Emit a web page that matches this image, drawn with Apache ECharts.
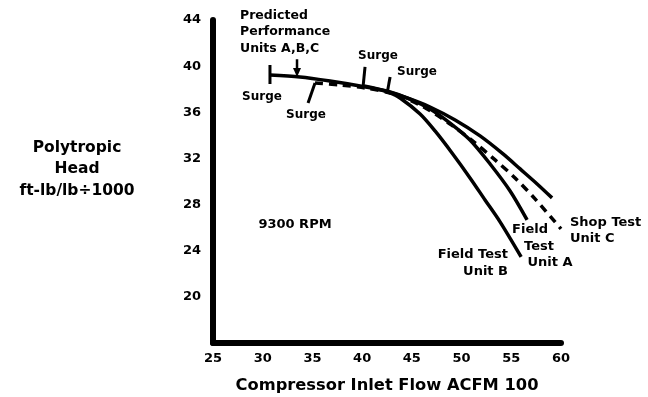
<!DOCTYPE html>
<html>
<head>
<meta charset="utf-8">
<script src="https://cdn.jsdelivr.net/npm/echarts@6/dist/echarts.min.js"></script>
<style>
html,body{margin:0;padding:0;background:#fff;}
#c{width:648px;height:397px;}
</style>
</head>
<body>
<div id="c"></div>
<script>
// X ticks / Y ticks
const xTicks = [25, 30, 35, 40, 45, 50, 55, 60];
const yTicks = [20, 24, 28, 32, 36, 40, 44];

// Predicted Performance Units A,B,C
const predFlow = [30.73, 33.75, 36.77, 39.79, 42.30, 44.52, 46.83, 49.35, 51.86, 54.17, 55.89, 57.60, 59.10];
const predHead = [39.23, 39.06, 38.71, 38.28, 37.85, 37.24, 36.46, 35.33, 33.95, 32.39, 31.09, 29.79, 28.58];

// Field Test Unit A
const unitAFlow = [40.19, 42.81, 44.82, 46.83, 48.84, 50.85, 52.87, 54.88, 56.59];
const unitAHead = [38.28, 37.76, 37.15, 36.29, 35.07, 33.60, 31.52, 29.18, 26.67];

// Field Test Unit B
const unitBFlow = [42.61, 43.81, 45.83, 47.33, 49.04, 50.85, 52.36, 53.87, 55.99];
const unitBHead = [37.76, 37.24, 35.85, 34.38, 32.47, 30.31, 28.40, 26.50, 23.46];

// Shop Test Unit C (dashed)
const unitCFlow = [35.26, 37.78, 40.29, 42.81, 45.83, 48.84, 51.36, 53.37, 55.38, 57.39, 60.0];
const unitCHead = [38.54, 38.37, 38.11, 37.67, 36.63, 34.99, 33.34, 31.87, 30.31, 28.49, 25.89];

// Surge tick segments [flow1, head1, flow2, head2]
const surgeTicks = [
  [30.73, 40.1, 30.73, 38.45],
  [35.26, 38.54, 34.56, 36.81],
  [40.29, 39.93, 40.09, 38.19],
  [42.81, 39.06, 42.5, 37.59]
];

// Arrow pointing to predicted line [flow, headTop, headBottom]
const arrowPts = [33.45, 40.6, 39.45];

const zip = (a, b) => a.map((v, i) => [v, b[i]]);
const font = s => "bold " + s + "px 'DejaVu Sans', sans-serif";

const curveStyle = {color: '#000', width: 3.5};
const series = [
  {type: 'line', data: zip(predFlow, predHead), smooth: 0.3, symbol: 'none', lineStyle: curveStyle},
  {type: 'line', data: zip(unitAFlow, unitAHead), smooth: 0.3, symbol: 'none', lineStyle: curveStyle},
  {type: 'line', data: zip(unitBFlow, unitBHead), smooth: 0.3, symbol: 'none', lineStyle: curveStyle},
  {type: 'line', data: zip(unitCFlow, unitCHead), smooth: 0.3, symbol: 'none',
   lineStyle: {color: '#000', width: 3.5, type: [8, 6]}}
];
surgeTicks.forEach(t => {
  series.push({type: 'line', data: [[t[0], t[1]], [t[2], t[3]]], symbol: 'none',
    lineStyle: {color: '#000', width: 3}});
});
series.push({type: 'line', symbol: 'none', lineStyle: {color: '#000', width: 2.5},
  data: [[arrowPts[0], arrowPts[1]],
         {value: [arrowPts[0], arrowPts[2]], symbol: 'triangle', symbolSize: [8, 9], symbolRotate: 180,
          itemStyle: {color: '#000'}}]});

const texts = [
  {t: 'Predicted\nPerformance\nUnits A,B,C', x: 240, y: 32, s: 12.5, a: 'left', lh: 16.5},
  {t: 'Surge', x: 262, y: 97, s: 12, a: 'center'},
  {t: 'Surge', x: 306, y: 115, s: 12, a: 'center'},
  {t: 'Surge', x: 378, y: 56, s: 12, a: 'center'},
  {t: 'Surge', x: 417, y: 72, s: 12, a: 'center'},
  {t: 'Polytropic\nHead\nft-lb/lb\u00f71000', x: 77, y: 169, s: 15.5, a: 'center', lh: 21.5},
  {t: '9300 RPM', x: 295, y: 225, s: 13, a: 'center'},
  {t: 'Field Test\nUnit B', x: 508, y: 263, s: 13, a: 'right', lh: 17},
  {t: 'Field', x: 530, y: 230, s: 13, a: 'center'},
  {t: 'Test', x: 539, y: 247, s: 13, a: 'center'},
  {t: 'Unit A', x: 550, y: 263, s: 13, a: 'center'},
  {t: 'Shop Test\nUnit C', x: 570, y: 231, s: 13, a: 'left', lh: 16},
  {t: 'Compressor Inlet Flow ACFM 100', x: 387, y: 386, s: 16.3, a: 'center'}
];

const chart = echarts.init(document.getElementById('c'), null, {renderer: 'canvas'});
chart.setOption({
  backgroundColor: '#fff',
  animation: false,
  grid: {left: 213, right: 87, top: 20, bottom: 54, containLabel: false},
  xAxis: {
    type: 'value', min: xTicks[0], max: xTicks[xTicks.length - 1], interval: 5,
    axisLine: {lineStyle: {color: '#000', width: 6, cap: 'round'}},
    axisTick: {show: false}, splitLine: {show: false},
    axisLabel: {color: '#000', fontFamily: 'DejaVu Sans', fontWeight: 'bold', fontSize: 13, margin: 9,
      formatter: v => xTicks.includes(v) ? String(v) : ''}
  },
  yAxis: {
    type: 'value', min: 16, max: yTicks[yTicks.length - 1], interval: 4,
    axisLine: {lineStyle: {color: '#000', width: 6, cap: 'round'}},
    axisTick: {show: false}, splitLine: {show: false},
    axisLabel: {color: '#000', fontFamily: 'DejaVu Sans', fontWeight: 'bold', fontSize: 13, margin: 12,
      formatter: v => yTicks.includes(v) ? String(v) : ''}
  },
  series: series,
  graphic: texts.map(o => ({
    type: 'text', x: o.x, y: o.y, silent: true,
    style: {text: o.t, fill: '#000', font: font(o.s), align: o.a, verticalAlign: 'middle',
      lineHeight: o.lh || undefined}
  }))
});
</script>
</body>
</html>
